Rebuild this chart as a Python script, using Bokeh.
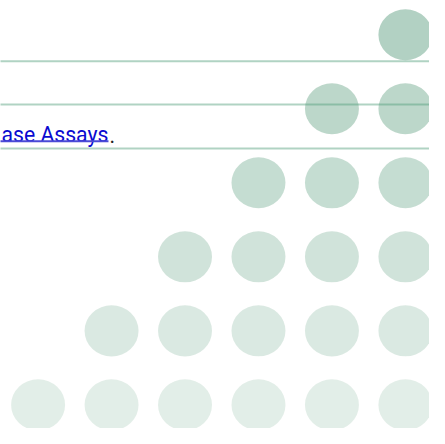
from bokeh.plotting import figure
from bokeh.models import Range1d, ColumnDataSource
from bokeh.core.properties import value
from bokeh.embed import file_html
from bokeh.resources import INLINE

# grid of dots (column index, row index) and per-row intensity
cols = [5,
        4, 5,
        3, 4, 5,
        2, 3, 4, 5,
        1, 2, 3, 4, 5,
        0, 1, 2, 3, 4, 5]
rows = [0,
        1, 1,
        2, 2, 2,
        3, 3, 3, 3,
        4, 4, 4, 4, 4,
        5, 5, 5, 5, 5, 5]
row_alpha = [0.30, 0.263, 0.227, 0.184, 0.145, 0.114]
link_text = ["ase Assays"]
rule_rows = [63, 108, 153.5]

# coordinates in reference pixels (445 x 444), drawn in a 429 x 428 figure
REF_W, REF_H = 445, 444
W, H = 429, 428
scale = W / REF_W
col_x0, col_step = 39, 76.2
row_y0, row_step = 35.5, 76.8

src = ColumnDataSource(dict(
    x=[col_x0 + c * col_step for c in cols],
    y=[row_y0 + r * row_step for r in rows],
    a=[row_alpha[r] for r in rows],
))

p = figure(width=W, height=H, output_backend="svg", toolbar_location=None,
           x_range=Range1d(0, REF_W), y_range=Range1d(REF_H, 0),
           min_border=0)
p.axis.visible = False
p.grid.visible = False
p.outline_line_color = None
p.background_fill_color = "white"
p.border_fill_color = "white"

p.ellipse(x="x", y="y", width=56, height=53, source=src,
          fill_color="#006837", fill_alpha="a", line_color=None)

for yy in rule_rows:
    p.line(x=[-10, 460], y=[yy, yy], line_color="#4f9e7a", line_alpha=0.45,
           line_width=2)

fs = f"{22 * scale:.1f}px"
p.text(x=[1.0], y=[139.5], text=link_text, text_align="left",
       text_baseline="alphabetic", text_font=value("Roboto"),
       text_font_size=fs, text_color="#0a0ad0")
p.line(x=[-10, 112], y=[146, 146], line_color="#4a4ad6", line_width=2)
p.text(x=[113], y=[139.5], text=["."], text_align="left",
       text_baseline="alphabetic", text_font=value("Roboto"),
       text_font_size=fs, text_color="#222222")

open("out.html", "w").write(file_html(p, INLINE))
